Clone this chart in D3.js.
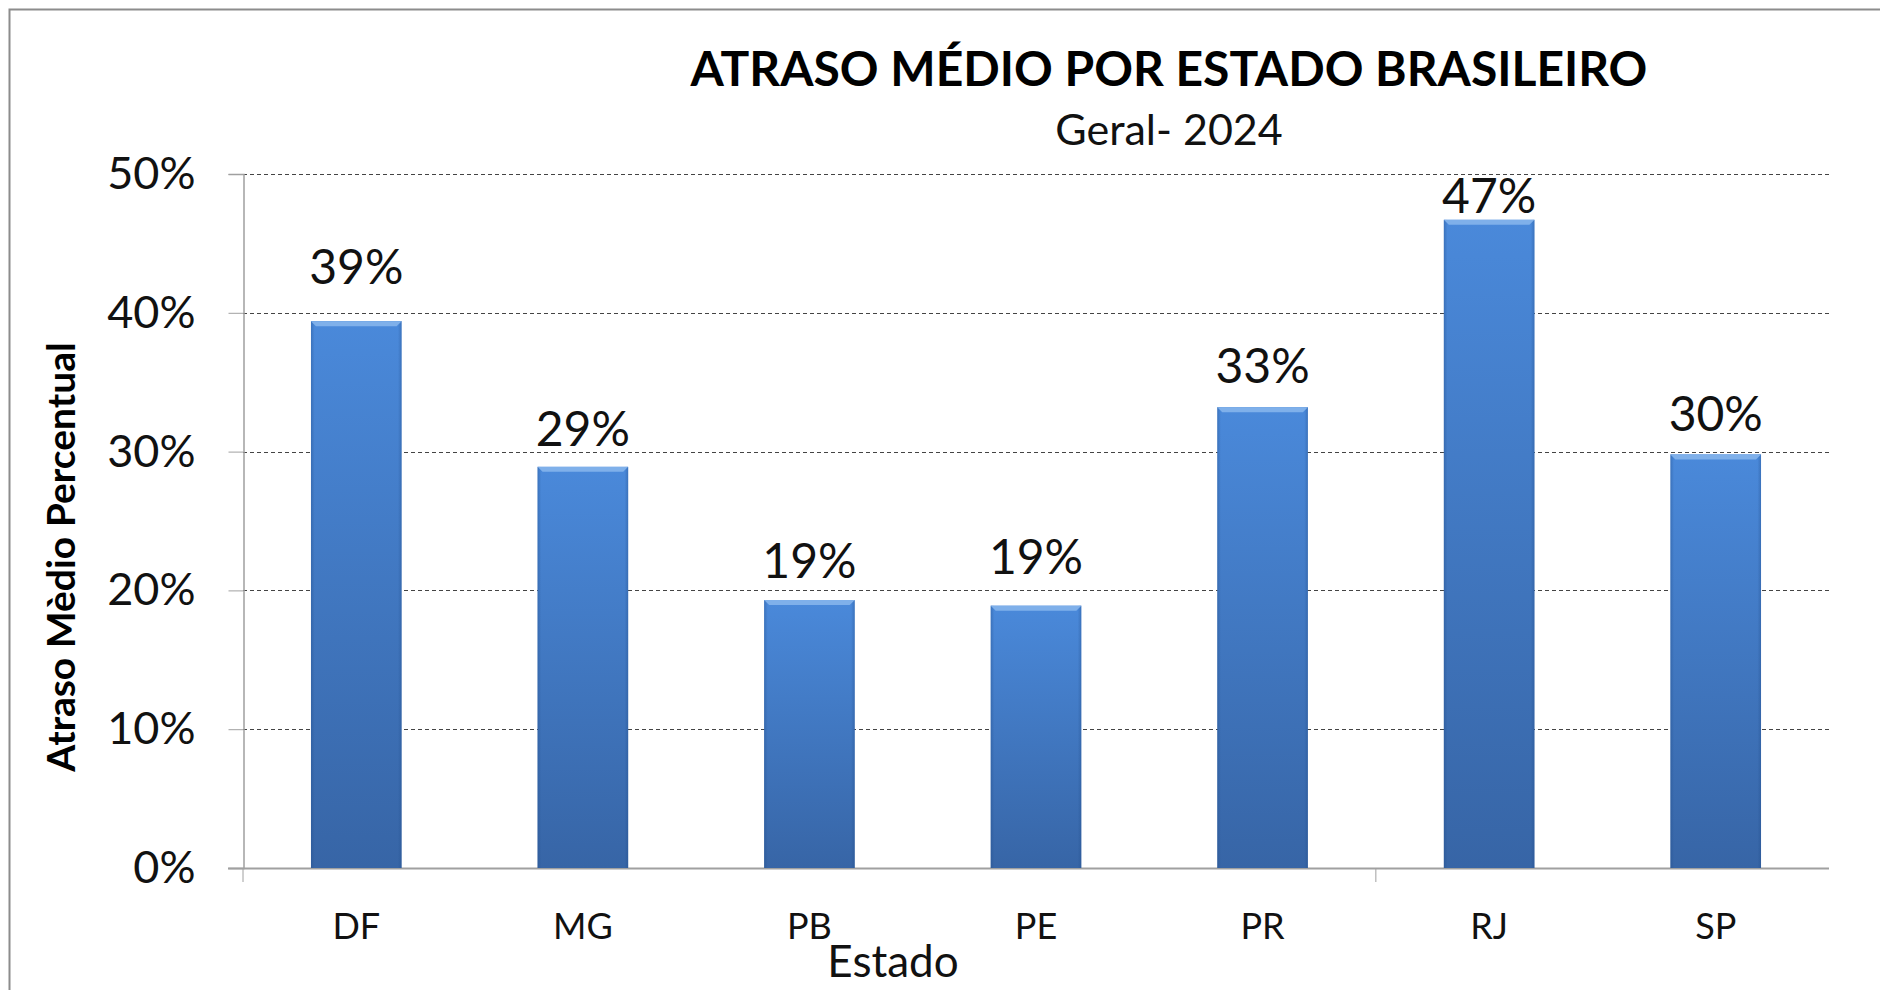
<!DOCTYPE html>
<html>
<head>
<meta charset="utf-8">
<script src="https://cdn.jsdelivr.net/npm/d3@7"></script>
<style>
  body { margin: 0; background: #fff; }
  svg { display: block; font-family: Lato, "Noto Sans", sans-serif; }
</style>
</head>
<body>
<svg width="1880" height="990"></svg>
<script>
// chart data
const estados = ["DF", "MG", "PB", "PE", "PR", "RJ", "SP"];
const atraso = [0.394, 0.289, 0.193, 0.189, 0.332, 0.467, 0.298];
const yTicks = [0, 0.1, 0.2, 0.3, 0.4, 0.5];
// labels were hand placed in the original, gap (px) between bar top and label baseline
const labelGap = [37, 21, 22, 32, 24, 7, 23];

var svg = d3.select("svg"),
    width = +svg.attr("width"),
    height = +svg.attr("height");

var margin = { left: 243, right: 51, top: 174, bottom: 122 };

// outer frame (only top/left edges are visible in the original)
svg.append("path")
    .attr("d", "M9.5," + height + "V9.5H" + width)
    .attr("fill", "none")
    .attr("stroke", "#8c8c8c")
    .attr("stroke-width", 2);

var x = d3.scaleBand()
    .domain(estados)
    .range([margin.left, width - margin.right])
    .paddingInner(0.6)
    .paddingOuter(0.3);

var y = d3.scaleLinear()
    .domain([0, 0.5])
    .range([height - margin.bottom, margin.top]);

var defs = svg.append("defs");
var grad = defs.append("linearGradient")
    .attr("id", "barGrad")
    .attr("x1", 0).attr("y1", 0).attr("x2", 0).attr("y2", 1);
grad.append("stop").attr("offset", "0%").attr("stop-color", "#4a89da");
grad.append("stop").attr("offset", "100%").attr("stop-color", "#3765a6");

var side = defs.append("linearGradient")
    .attr("id", "sideGrad")
    .attr("x1", 0).attr("y1", 0).attr("x2", 1).attr("y2", 0);
side.append("stop").attr("offset", "0%").attr("stop-color", "#1f4a86").attr("stop-opacity", 0.35);
side.append("stop").attr("offset", "4%").attr("stop-color", "#1f4a86").attr("stop-opacity", 0);
side.append("stop").attr("offset", "96%").attr("stop-color", "#1f4a86").attr("stop-opacity", 0);
side.append("stop").attr("offset", "100%").attr("stop-color", "#1f4a86").attr("stop-opacity", 0.35);

// gridlines
svg.append("g")
    .selectAll("line")
    .data(yTicks.filter(d => d > 0))
    .join("line")
    .attr("x1", margin.left)
    .attr("x2", width - margin.right)
    .attr("y1", d => Math.round(y(d)) + 0.5)
    .attr("y2", d => Math.round(y(d)) + 0.5)
    .attr("stroke", "#444")
    .attr("stroke-width", 1)
    .attr("stroke-dasharray", "4,3");

// y axis
var yAxis = svg.append("g")
    .attr("transform", "translate(" + (margin.left + 0.5) + ",0)")
    .call(d3.axisLeft(y).tickValues(yTicks).tickFormat(d3.format(".0%")).tickSize(15).tickPadding(33));
yAxis.select(".domain").attr("stroke", "#a0a0a0").attr("stroke-width", 1.5);
yAxis.selectAll(".tick line").attr("stroke", "#a0a0a0");
yAxis.selectAll("text")
    .attr("font-size", 45)
    .attr("fill", "#111")
    .attr("font-family", "Lato");

// x axis
var xAxis = svg.append("g")
    .attr("transform", "translate(0," + (y(0)) + ")")
    .call(d3.axisBottom(x).tickSize(0).tickPadding(45));
xAxis.select(".domain")
    .attr("d", "M" + (margin.left - 15) + ",0.5H" + (width - margin.right))
    .attr("stroke", "#a0a0a0")
    .attr("stroke-width", 2);
xAxis.selectAll("text")
    .attr("font-size", 36)
    .attr("fill", "#111")
    .attr("font-family", "Lato");

// little tick marks under the axis (as in the original)
xAxis.selectAll(".edge")
    .data([estados[0], estados[5]])
    .join("line")
    .attr("class", "edge")
    .attr("x1", d => x(d) - x.step() * x.paddingInner() / 2)
    .attr("x2", d => x(d) - x.step() * x.paddingInner() / 2)
    .attr("y1", 0)
    .attr("y2", 14)
    .attr("stroke", "#a0a0a0");

// bars
var bars = svg.append("g")
    .selectAll("g")
    .data(estados.map((e, i) => ({ e: e, v: atraso[i], gap: labelGap[i] })))
    .join("g");

bars.append("rect")
    .attr("x", d => x(d.e))
    .attr("y", d => y(d.v))
    .attr("width", x.bandwidth())
    .attr("height", d => y(0) - y(d.v))
    .attr("fill", "url(#barGrad)");

bars.append("rect")
    .attr("x", d => x(d.e))
    .attr("y", d => y(d.v))
    .attr("width", x.bandwidth())
    .attr("height", d => y(0) - y(d.v))
    .attr("fill", "url(#sideGrad)");

// top bevel
bars.append("path")
    .attr("d", d => {
        var x0 = x(d.e), x1 = x0 + x.bandwidth(), t = y(d.v);
        return "M" + x0 + "," + t + "H" + x1 + "L" + (x1 - 5) + "," + (t + 5) + "H" + (x0 + 5) + "Z";
    })
    .attr("fill", "#7fb0ea");

// value labels
bars.append("text")
    .attr("x", d => x(d.e) + x.bandwidth() / 2)
    .attr("y", d => y(d.v) - d.gap)
    .attr("text-anchor", "middle")
    .attr("font-size", 48)
    .attr("fill", "#111")
    .text(d => d3.format(".0%")(d.v));

// titles
svg.append("text")
    .attr("x", 1169)
    .attr("y", 86)
    .attr("text-anchor", "middle")
    .attr("font-size", 48)
    .attr("font-weight", "bold")
    .attr("fill", "#000")
    .text("ATRASO MÉDIO POR ESTADO BRASILEIRO");

svg.append("text")
    .attr("x", 1169)
    .attr("y", 145)
    .attr("text-anchor", "middle")
    .attr("font-size", 43)
    .attr("fill", "#111")
    .text("Geral- 2024");

svg.append("text")
    .attr("transform", "translate(75,557) rotate(-90)")
    .attr("text-anchor", "middle")
    .attr("font-size", 39)
    .attr("font-weight", "bold")
    .attr("fill", "#000")
    .text("Atraso Mèdio Percentual");

svg.append("text")
    .attr("x", 893)
    .attr("y", 977)
    .attr("text-anchor", "middle")
    .attr("font-size", 44)
    .attr("fill", "#111")
    .text("Estado");
</script>
</body>
</html>
